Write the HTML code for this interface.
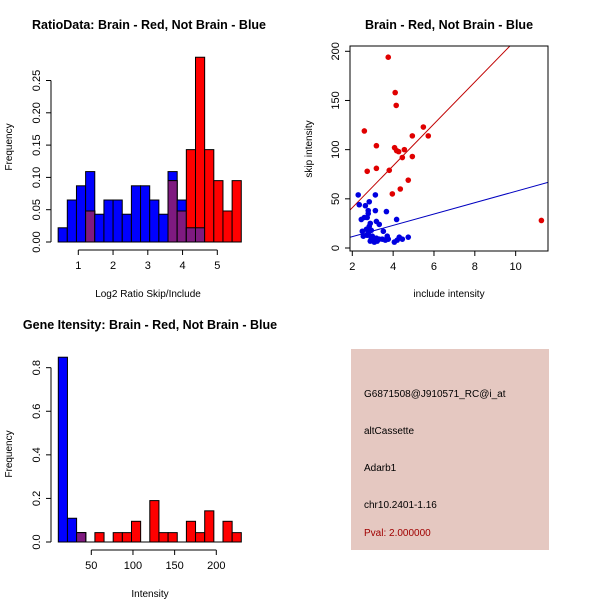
<!DOCTYPE html>
<html><head><meta charset="utf-8"><style>
html,body{margin:0;padding:0;background:#fff}
svg{display:block;font-family:"Liberation Sans",Arial,sans-serif}
</style></head><body>
<svg id="c" width="600" height="600" viewBox="0 0 600 600">
<rect x="0" y="0" width="600" height="600" fill="#fff"/>
<text x="149" y="29" font-size="12.5" font-weight="bold" text-anchor="middle">RatioData: Brain - Red, Not Brain - Blue</text>
<text x="449" y="29" font-size="12.5" font-weight="bold" text-anchor="middle">Brain - Red, Not Brain - Blue</text>
<text x="150" y="329" font-size="12.5" font-weight="bold" text-anchor="middle">Gene Itensity: Brain - Red, Not Brain - Blue</text>
<text x="148" y="297" font-size="10" text-anchor="middle">Log2 Ratio Skip/Include</text>
<text x="12" y="147" font-size="10" text-anchor="middle" transform="rotate(-90 12 147)">Frequency</text>
<text x="449" y="297" font-size="10" text-anchor="middle">include intensity</text>
<text x="312" y="149" font-size="10" text-anchor="middle" transform="rotate(-90 312 149)">skip intensity</text>
<text x="150" y="597" font-size="10" text-anchor="middle">Intensity</text>
<text x="12" y="454" font-size="10" text-anchor="middle" transform="rotate(-90 12 454)">Frequency</text>
<g>
<rect x="351" y="349" width="198" height="201" fill="#e5c8c1"/>
<text x="364" y="397" font-size="10" fill="#000">G6871508@J910571_RC@i_at</text>
<text x="364" y="434" font-size="10" fill="#000">altCassette</text>
<text x="364" y="471" font-size="10" fill="#000">Adarb1</text>
<text x="364" y="508" font-size="10" fill="#000">chr10.2401-1.16</text>
<text x="364" y="536" font-size="10" fill="#a00000">Pval: 2.000000</text>
</g>
<g id="g1"></g>
<g id="g2"></g>
<g id="g3"></g>
</svg>
<script>
// Ratio histogram data
const ratioBinStart = 0.42, ratioBinWidth = 0.2635;
const ratioBlue = [0.022,0.065,0.087,0.109,0.043,0.065,0.065,0.043,0.087,0.087,0.065,0.043,0.109,0.065,0.022,0.022,0,0,0,0];
const ratioRed  = [0,0,0,0.048,0,0,0,0,0,0,0,0,0.095,0.048,0.143,0.286,0.143,0.095,0.048,0.095];
const ratioXTicks = [1,2,3,4,5];
const ratioYTicks = ["0.00","0.05","0.10","0.15","0.20","0.25"];
// Scatter data
const redX = [3.76,4.1,4.15,2.59,5.48,4.94,5.72,3.18,4.07,4.17,4.27,4.55,4.45,4.94,2.73,3.18,3.81,4.74,4.35,3.96,11.26];
const redY = [194,158,145,119,123,114,114,104,102,99,98,100,92,93,78,81,79,69,60,55,28];
const blueX = [2.29,2.34,2.64,2.83,3.13,2.44,2.59,2.73,2.78,2.78,3.13,3.18,3.32,3.67,4.17,2.49,2.54,2.69,2.83,2.88,2.93,2.78,2.98,3.03,2.88,3.08,3.22,3.32,3.47,3.52,3.62,3.71,3.76,4.06,4.2,4.3,4.45,4.74,2.73,2.93,3.18];
const blueY = [54,44,43,47,54,29,31,31,38,35,38,27,24,37,29,17,12,19,22,25,18,15,12,8,7,6,7,9,9,17,8,12,9,6,8,11,9,11,13,10,10];
const redFit = [-1.6, 21.3];   // intercept, slope
const blueFit = [0, 5.76];
const scXTicks = [2,4,6,8,10];
const scYTicks = [0,50,100,150,200];
// Intensity histogram data
const intBinStart = 10.4, intBinWidth = 10.98;
const intBlue = [0.848,0.109,0.043,0,0,0,0,0,0,0,0,0,0,0,0,0,0,0,0,0];
const intRed  = [0,0,0.043,0,0.043,0,0.043,0.043,0.095,0,0.19,0.043,0.043,0,0.095,0.043,0.143,0,0.095,0.043];
const intXTicks = [50,100,150,200];
const intYTicks = ["0.0","0.2","0.4","0.6","0.8"];

const NS="http://www.w3.org/2000/svg";
function mk(parent,tag,attrs){const e=document.createElementNS(NS,tag);for(const k in attrs)e.setAttribute(k,attrs[k]);parent.appendChild(e);return e;}
function txt(parent,x,y,s,size,anchor,rot){const t=mk(parent,'text',{x:x,y:y,'font-size':size,'text-anchor':anchor});if(rot)t.setAttribute('transform','rotate(-90 '+x+' '+y+')');t.textContent=s;return t;}

function hist(g,start,w,blue,red,xs,ys,xTicks,yTicks,yTickVals,axX0,axY){
  for(let i=0;i<blue.length;i++){
    const a=start+i*w,b=a+w;
    const bl=blue[i],rd=red[i];
    if(bl>0){const r=mk(g,'rect',{x:xs(a),y:ys(bl),width:xs(b)-xs(a),height:ys(0)-ys(bl),fill:'#0000ff',stroke:'#000','stroke-width':1});
      
      }
    if(rd>0){const r=mk(g,'rect',{x:xs(a),y:ys(rd),width:xs(b)-xs(a),height:ys(0)-ys(rd),fill:'#ff0000',stroke:'#000','stroke-width':1});
      
      }
    const m=Math.min(bl,rd);
    if(m>0){const r=mk(g,'rect',{x:xs(a),y:ys(m),width:xs(b)-xs(a),height:ys(0)-ys(m),fill:'#7f1a80',stroke:'#000','stroke-width':1});
      
      }
  }
  const end=start+blue.length*w;
  mk(g,'line',{x1:xs(start),x2:xs(end),y1:ys(0),y2:ys(0),stroke:'#000'});
  mk(g,'line',{x1:xs(xTicks[0]),x2:xs(xTicks[xTicks.length-1]),y1:axY,y2:axY,stroke:'#000'});
  xTicks.forEach(v=>{mk(g,'line',{x1:xs(v),x2:xs(v),y1:axY,y2:axY+5,stroke:'#000'});
    const t=txt(g,xs(v),axY+19,String(v),11,'middle');
    
    });
  const yx=axX0;
  mk(g,'line',{x1:yx,x2:yx,y1:ys(yTickVals[0]),y2:ys(yTickVals[yTickVals.length-1]),stroke:'#000'});
  yTickVals.forEach((v,i)=>{mk(g,'line',{x1:yx-5,x2:yx,y1:ys(v),y2:ys(v),stroke:'#000'});
    const t=txt(g,yx-11,ys(v),yTicks[i],11,'middle',true);
    
    });
}

// Panel 1
(function(){
  const g=document.getElementById('g1');
  const xs=v=>78.3+(v-1)*34.75, ys=v=>242-v*646;
  hist(g,ratioBinStart,ratioBinWidth,ratioBlue,ratioRed,xs,ys,ratioXTicks,ratioYTicks,ratioYTicks.map(Number),51,250);
})();
// Panel 3
(function(){
  const g=document.getElementById('g3');
  const xs=v=>91.3+(v-50)*0.8333, ys=v=>542-v*217.9;
  hist(g,intBinStart,intBinWidth,intBlue,intRed,xs,ys,intXTicks,intYTicks,intYTicks.map(Number),51,550);
})();
// Panel 2
(function(){
  const g=document.getElementById('g2');
  const xs=v=>352.3+(v-2)*20.42, ys=v=>248-v*0.9835;
  const L=350,R=548,T=46,B=251;
  const cp=mk(g,'clipPath',{id:'scclip'});mk(cp,'rect',{x:L,y:T,width:R-L,height:B-T});
  const lg=mk(g,'g',{'clip-path':'url(#scclip)'});
  const x0=(L-352.3)/20.42+2, x1=(R-352.3)/20.42+2;
  let l=mk(lg,'line',{x1:xs(x0),y1:ys(redFit[0]+redFit[1]*x0),x2:xs(x1),y2:ys(redFit[0]+redFit[1]*x1),stroke:'#c00000','stroke-width':1});
  
  
  l=mk(lg,'line',{x1:xs(x0),y1:ys(blueFit[0]+blueFit[1]*x0),x2:xs(x1),y2:ys(blueFit[0]+blueFit[1]*x1),stroke:'#0000c0','stroke-width':1});
  
  
  redX.forEach((x,i)=>{const c=mk(g,'circle',{cx:xs(x),cy:ys(redY[i]),r:2.8,fill:'#e00000'});
    
    });
  blueX.forEach((x,i)=>{const c=mk(g,'circle',{cx:xs(x),cy:ys(blueY[i]),r:2.8,fill:'#0000e0'});
    
    });
  mk(g,'rect',{x:L,y:T,width:R-L,height:B-T,fill:'none',stroke:'#000'});
  scXTicks.forEach(v=>{mk(g,'line',{x1:xs(v),x2:xs(v),y1:B,y2:B+5,stroke:'#000'});
    const t=txt(g,xs(v),B+19,String(v),11,'middle');
    
    });
  scYTicks.forEach(v=>{mk(g,'line',{x1:L-5,x2:L,y1:ys(v),y2:ys(v),stroke:'#000'});
    const t=txt(g,L-11,ys(v),String(v),11,'middle',true);
    
    });
})();
</script>
</body></html>
